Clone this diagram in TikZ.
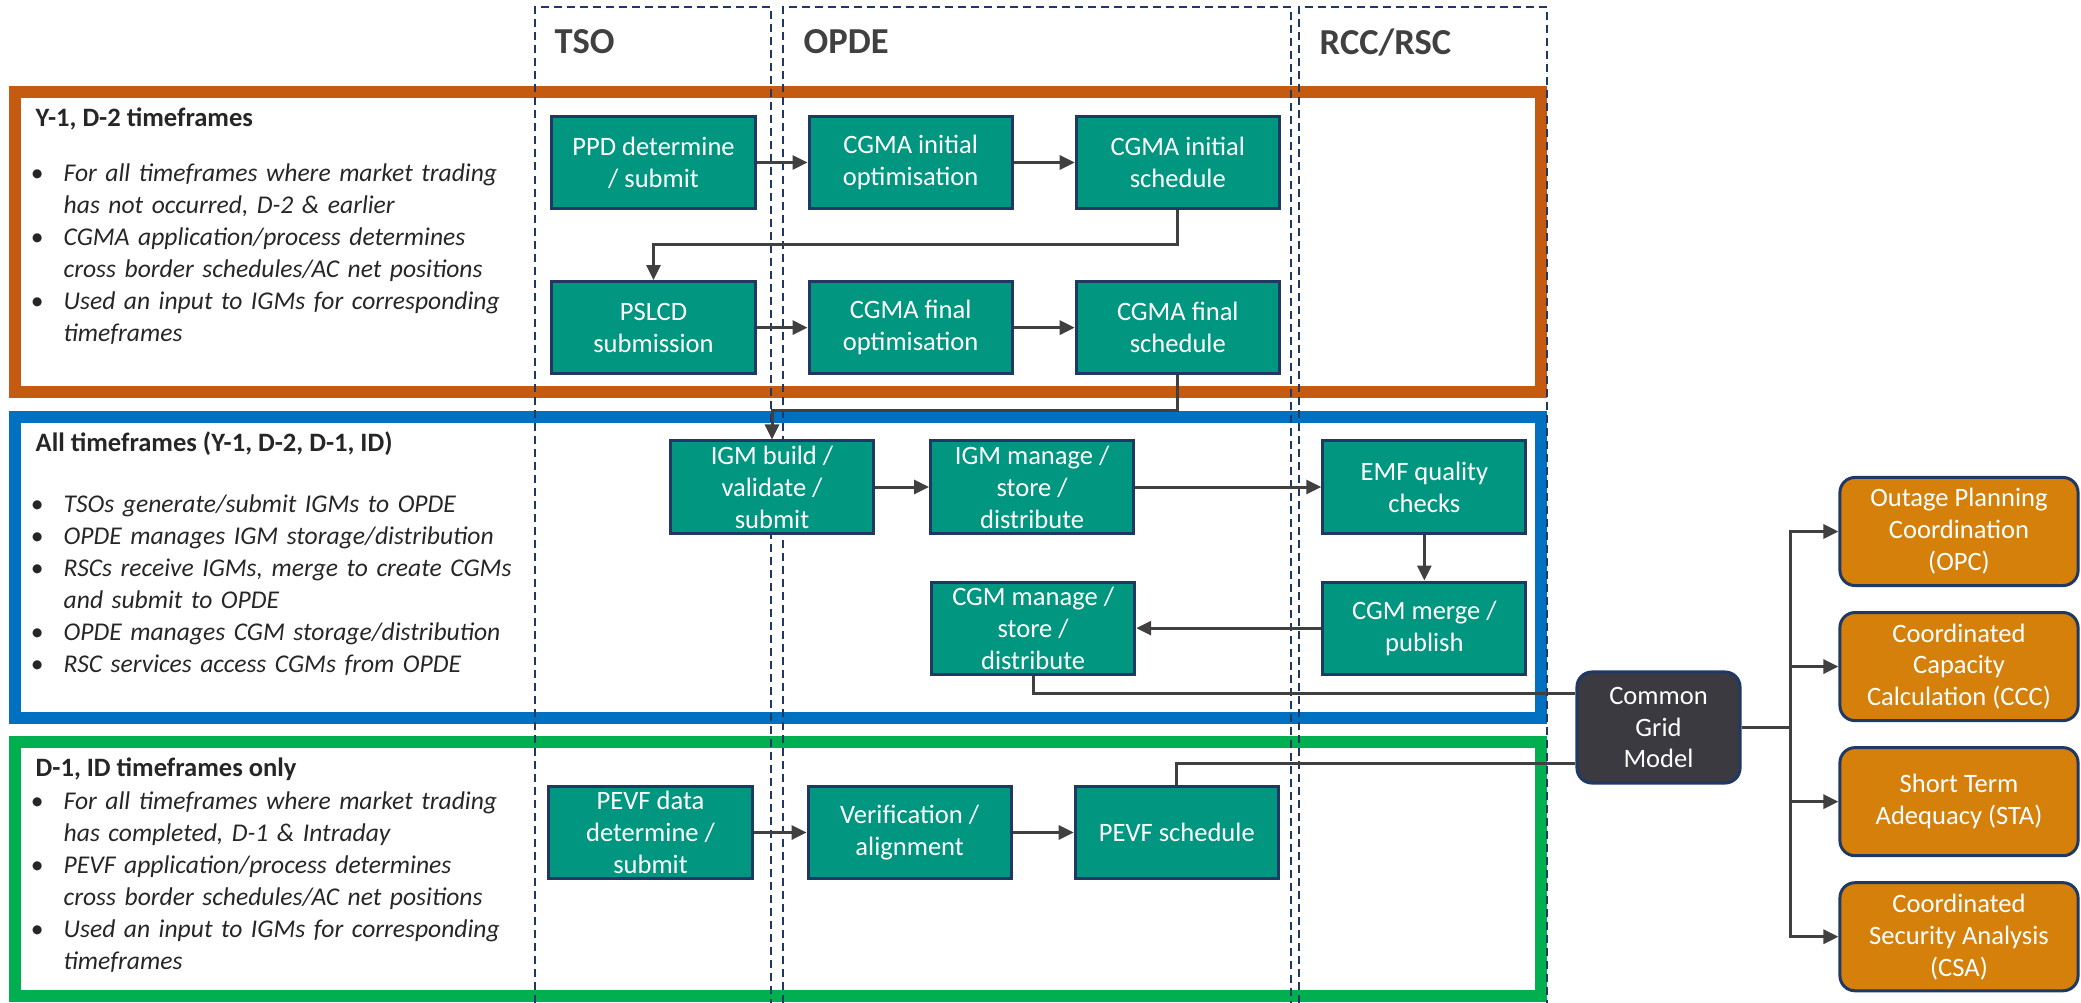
\documentclass[tikz,border=0pt]{standalone}
\usepackage{fontspec}
\setmainfont{Carlito}
\usepackage{enumitem}
\usetikzlibrary{positioning, arrows.meta}

\definecolor{tealbox}{HTML}{00967F}
\definecolor{boxedge}{HTML}{1F3864}
\definecolor{orangeframe}{HTML}{C55A11}
\definecolor{blueframe}{HTML}{0070C0}
\definecolor{greenframe}{HTML}{00B050}
\definecolor{servicebox}{HTML}{D4800A}
\definecolor{gridbox}{HTML}{3A3A40}
\definecolor{linegray}{HTML}{404040}
\definecolor{textdark}{HTML}{262626}

\newcommand{\diagfont}{\fontsize{7.55}{9.07}\selectfont}
\newcommand{\notefont}{\fontsize{7.27}{9.07}\selectfont}
\newcommand{\lanefont}{\fontsize{10.4}{12.5}\selectfont\bfseries}
\setlist[itemize]{nosep, leftmargin=0.28cm, labelsep=0.2cm, label={\upshape\textbullet}}

\begin{document}
\begin{tikzpicture}[x=0.01cm, y=-0.01cm,
        process/.style={rectangle, draw=boxedge, line width=0.03cm, fill=tealbox, text=white, minimum width=2.03cm, minimum height=0.92cm, inner xsep=0.08cm, inner ysep=0.02cm, align=center, font=\diagfont},
        service/.style={rectangle, rounded corners=0.15cm, draw=boxedge, line width=0.03cm, fill=servicebox, text=white, minimum width=2.38cm, minimum height=1.08cm, inner sep=0.05cm, align=center, font=\diagfont},
        gridmodel/.style={rectangle, rounded corners=0.15cm, draw=boxedge, line width=0.03cm, fill=gridbox, text=white, minimum width=1.63cm, minimum height=1.11cm, inner sep=0.05cm, align=center, font=\diagfont},
        secframe/.style={line width=0.12cm},
        lane/.style={draw=boxedge, line width=0.02cm, dash pattern=on 0.08cm off 0.05cm},
        lanehead/.style={anchor=west, inner sep=0, text=linegray, font=\lanefont},
        sectitle/.style={anchor=west, inner sep=0, text=textdark, font=\diagfont\bfseries},
        bullets/.style={anchor=north west, inner sep=0, text=textdark, text width=5.4cm, align=left, font=\notefont\itshape},
        arrow/.style={line width=0.03cm, draw=linegray, -{Triangle[length=0.15cm, width=0.14cm]}},
        link/.style={line width=0.03cm, draw=linegray}]

        \useasboundingbox (0,0) rectangle (2081,1003);

        % Timeframe frames
        \draw [secframe, orangeframe] (15,92) rectangle (1541,392);
        \draw [secframe, blueframe] (15,417) rectangle (1541,718);
        \draw [secframe, greenframe] (15,742) rectangle (1541,996);

        % Swim lanes
        \draw [lane] (535,1003) -- (535,7) -- (771,7) -- (771,1003);
        \draw [lane] (783,1003) -- (783,7) -- (1291,7) -- (1291,1003);
        \draw [lane] (1299,1003) -- (1299,7) -- (1547,7) -- (1547,1003);
        \node (tsohead) [lanehead] at (554,42) {TSO};
        \node (opdehead) [lanehead] at (803,42) {OPDE};
        \node (rcchead) [lanehead] at (1319,42) {RCC/RSC};

        % Descriptions
        \node (ytitle) [sectitle] at (35,119) {Y-1, D-2 timeframes};
        \node (ybullets) [bullets] at (35,149) {\begin{itemize}
            \item For all timeframes where market trading\\has not occurred, D-2 \& earlier
            \item CGMA application/process determines\\cross border schedules/AC net positions
            \item Used an input to IGMs for corresponding\\timeframes
          \end{itemize}};
        \node (alltitle) [sectitle] at (35,444) {All timeframes (Y-1, D-2, D-1, ID)};
        \node (allbullets) [bullets] at (35,480) {\begin{itemize}
            \item TSOs generate/submit IGMs to OPDE
            \item OPDE manages IGM storage/distribution
            \item RSCs receive IGMs, merge to create CGMs\\and submit to OPDE
            \item OPDE manages CGM storage/distribution
            \item RSC services access CGMs from OPDE
          \end{itemize}};
        \node (idtitle) [sectitle] at (35,769) {D-1, ID timeframes only};
        \node (idbullets) [bullets] at (35,777) {\begin{itemize}
            \item For all timeframes where market trading\\has completed, D-1 \& Intraday
            \item PEVF application/process determines\\cross border schedules/AC net positions
            \item Used an input to IGMs for corresponding\\timeframes
          \end{itemize}};

        % Y-1, D-2 process
        \node (ppd) [process] at (653.5,162.5) {PPD determine\\/ submit};
        \node (cgmaiopt) [process, right=0.51cm of ppd] {CGMA initial\\optimisation};
        \node (cgmaisch) [process, right=0.61cm of cgmaiopt] {CGMA initial\\schedule};
        \node (pslcd) [process, below=0.70cm of ppd] {PSLCD\\submission};
        \node (cgmafopt) [process, right=0.51cm of pslcd] {CGMA final\\optimisation};
        \node (cgmafsch) [process, right=0.61cm of cgmafopt] {CGMA final\\schedule};

        % IGM / CGM process
        \node (igmbuild) [process] at (772,487) {IGM build /\\validate /\\submit};
        \node (igmmanage) [process, right=0.54cm of igmbuild] {IGM manage /\\store /\\distribute};
        \node (emf) [process, right=1.86cm of igmmanage] {EMF quality\\checks};
        \node (cgmmerge) [process, below=0.46cm of emf] {CGM merge /\\publish};
        \node (cgmmanage) [process, left=1.85cm of cgmmerge] {CGM manage /\\store /\\distribute};

        % D-1, ID process
        \node (pevf) [process] at (650.5,832.5) {PEVF data\\determine /\\submit};
        \node (verif) [process, right=0.53cm of pevf] {Verification /\\alignment};
        \node (pevfsch) [process, right=0.61cm of verif] {PEVF schedule};

        % Common grid model and services
        \node (cgm) [gridmodel] at (1658.5,727.5) {Common\\Grid\\Model};
        \node (opc) [service] at (1959,531.5) {Outage Planning\\Coordination\\(OPC)};
        \node (ccc) [service, below=0.24cm of opc] {Coordinated\\Capacity\\Calculation (CCC)};
        \node (sta) [service, below=0.24cm of ccc] {Short Term\\Adequacy (STA)};
        \node (csa) [service, below=0.24cm of sta] {Coordinated\\Security Analysis\\(CSA)};

        % Connections
        \draw [arrow] (ppd) -- (cgmaiopt);
        \draw [arrow] (cgmaiopt) -- (cgmaisch);
        \draw [arrow] (cgmaisch.south) -- ++(0,-0.34cm) -| (pslcd.north);
        \draw [arrow] (pslcd) -- (cgmafopt);
        \draw [arrow] (cgmafopt) -- (cgmafsch);
        \draw [arrow] (cgmafsch.south) -- ++(0,-0.35cm) -| (igmbuild.north);
        \draw [arrow] (igmbuild) -- (igmmanage);
        \draw [arrow] (igmmanage) -- (emf);
        \draw [arrow] (emf) -- (cgmmerge);
        \draw [arrow] (cgmmerge) -- (cgmmanage);
        \draw [link] (cgmmanage.south) |- ([yshift=-0.23cm]cgm.north west);
        \draw [arrow] (pevf) -- (verif);
        \draw [arrow] (verif) -- (pevfsch);
        \draw [link] (pevfsch.north) |- ([yshift=0.21cm]cgm.south west);
        \draw [arrow] (cgm.east) -- ++(0.49cm,0) |- (opc.west);
        \draw [arrow] (cgm.east) -- ++(0.49cm,0) |- (ccc.west);
        \draw [arrow] (cgm.east) -- ++(0.49cm,0) |- (sta.west);
        \draw [arrow] (cgm.east) -- ++(0.49cm,0) |- (csa.west);

\end{tikzpicture}
\end{document}
